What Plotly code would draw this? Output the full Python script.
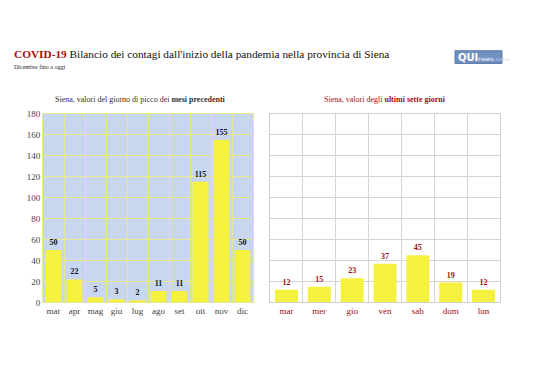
import plotly.graph_objects as go

months = ["mar", "apr", "mag", "giu", "lug", "ago", "set", "ott", "nov", "dic"]
peak_values = [50, 22, 5, 3, 2, 11, 11, 115, 155, 50]
days = ["mar", "mer", "gio", "ven", "sab", "dom", "lun"]
week_values = [12, 15, 23, 37, 45, 19, 12]
y_ticks = [0, 20, 40, 60, 80, 100, 120, 140, 160, 180]

SERIF = "Liberation Serif"
YELLOW = "#f5f23f"
DARKRED = "#a50d0d"
W, H = 538, 380


def px(x):
    return x / W


def py(y):
    return 1 - y / H


fig = go.Figure()
fig.add_trace(go.Bar(x=months, y=peak_values, marker=dict(color=YELLOW, line=dict(width=0)),
                     text=peak_values, textposition="outside",
                     textfont=dict(family=SERIF, size=8, color="#111"),
                     texttemplate="<b>%{text}</b>", cliponaxis=False,
                     xaxis="x", yaxis="y", width=0.76))
fig.add_trace(go.Bar(x=days, y=week_values, marker=dict(color=YELLOW, line=dict(width=0)),
                     text=week_values, textposition="outside",
                     textfont=dict(family=SERIF, size=8, color=DARKRED),
                     texttemplate="<b>%{text}</b>", cliponaxis=False,
                     xaxis="x2", yaxis="y2", width=0.7))

fig.update_layout(
    width=W, height=H,
    margin=dict(l=0, r=0, t=0, b=0),
    paper_bgcolor="white",
    showlegend=False,
    font=dict(family=SERIF),
    xaxis=dict(domain=[px(43), px(253)], type="category", tickson="boundaries",
               showgrid=True, gridcolor="#e6e890", gridwidth=1, ticks="", tickangle=0,
               tickfont=dict(family=SERIF, size=9, color="#444"),
               showline=True, linecolor="#e6e890", mirror=True, zeroline=False),
    yaxis=dict(domain=[py(305.5), py(111.5)], range=[0, 180], tickvals=y_ticks,
               showgrid=True, gridcolor="#e6e890", gridwidth=1, ticks="",
               tickfont=dict(family=SERIF, size=9, color="#444"),
               showline=True, linecolor="#e6e890", mirror=True, zeroline=False),
    xaxis2=dict(domain=[px(270), px(500)], type="category", tickson="boundaries",
                showgrid=True, gridcolor="#d4d4d4", gridwidth=1, ticks="", tickangle=0,
                tickfont=dict(family=SERIF, size=9, color=DARKRED),
                showline=True, linecolor="#cfcfcf", mirror=True, zeroline=False,
                anchor="y2"),
    yaxis2=dict(domain=[py(305.5), py(111.5)], range=[0, 180], tickvals=y_ticks,
                showticklabels=False, anchor="x2",
                showgrid=True, gridcolor="#d4d4d4", gridwidth=1, ticks="",
                showline=True, linecolor="#cfcfcf", mirror=True, zeroline=False),
    plot_bgcolor="white",
)

fig.add_shape(type="rect", xref="x domain", yref="y domain", x0=0, x1=1, y0=0, y1=1,
              fillcolor="#c9d6f0", line=dict(width=0), layer="below")

ann = []
ann.append(dict(x=px(12), y=py(50), xref="paper", yref="paper", xanchor="left", yanchor="middle",
                text="<b><span style='color:#a50d0d'>COVID-19</span></b> Bilancio dei contagi dall'inizio della pandemia nella provincia di Siena",
                showarrow=False, font=dict(family=SERIF, size=11.3, color="#111")))
ann.append(dict(x=px(12), y=py(64), xref="paper", yref="paper", xanchor="left", yanchor="middle",
                text="Dicembre fino a oggi", showarrow=False,
                font=dict(family=SERIF, size=6, color="#222")))
ann.append(dict(x=px(140), y=py(97), xref="paper", yref="paper", xanchor="center", yanchor="middle",
                text="Siena, valori del giorno di picco dei <b>mesi precedenti</b>", showarrow=False,
                font=dict(family=SERIF, size=8, color="#333")))
ann.append(dict(x=px(385), y=py(97), xref="paper", yref="paper", xanchor="center", yanchor="middle",
                text="Siena, valori degli <b>ultimi sette giorni</b>", showarrow=False,
                font=dict(family=SERIF, size=8, color=DARKRED)))
fig.add_shape(type="rect", xref="paper", yref="paper", x0=px(455), x1=px(502),
              y0=py(60), y1=py(47), fillcolor="#6f8fc0", line=dict(color="#5a78a8", width=1))
ann.append(dict(x=px(456), y=py(53.5), xref="paper", yref="paper", xanchor="left", yanchor="middle",
                text="<b>QUI</b><span style='font-size:6px'>news</span><span style='font-size:5px;color:#c8d4ea'>.siena</span>",
                showarrow=False, font=dict(family="DejaVu Sans", size=10, color="white")))
fig.update_layout(annotations=ann)

fig.write_html("out.html", config={"displayModeBar": False},
               post_script="document.body.style.margin='0';document.body.style.overflow='hidden';")
